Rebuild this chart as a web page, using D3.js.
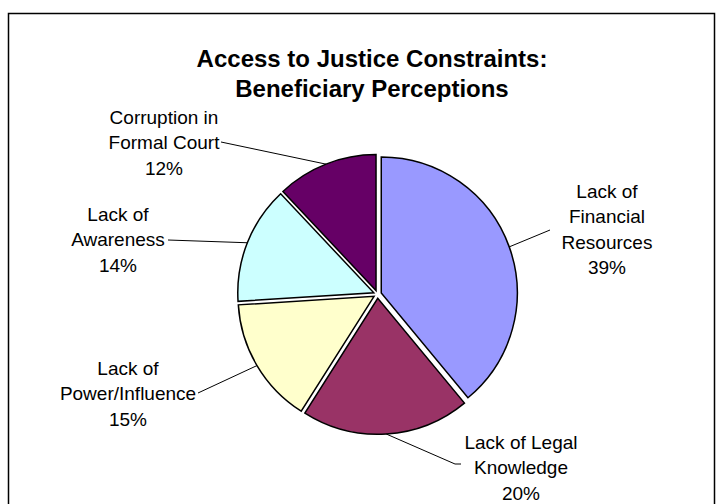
<!DOCTYPE html>
<html>
<head>
<meta charset="utf-8">
<script src="https://cdn.jsdelivr.net/npm/d3@7/dist/d3.min.js"></script>
<style>
  html, body { margin: 0; padding: 0; background: #fff; }
  svg { display: block; }
  text { font-family: "Liberation Sans", Arial, sans-serif; fill: #000; }
</style>
</head>
<body>
<svg id="chart" width="723" height="504"></svg>
<script>
// ---- data ----
const categories = [
  ["Lack of", "Financial", "Resources"],
  ["Lack of Legal", "Knowledge"],
  ["Lack of", "Power/Influence"],
  ["Lack of", "Awareness"],
  ["Corruption in", "Formal Court"]
];
const values = [39, 20, 15, 14, 12];
const percentLabels = ["39%", "20%", "15%", "14%", "12%"];
const colors = ["#9999FF", "#993366", "#FFFFCC", "#CCFFFF", "#660066"];
const titleLines = ["Access to Justice Constraints:", "Beneficiary Perceptions"];

// ---- layout (positions only) ----
const cx = 377.5, cy = 294.3, radius = 136, explode = 4;
const labelLayout = [
  { x: 607, y: 191, leader: [[550, 230]] },
  { x: 521, y: 442, leader: [[455, 464], [461, 464]] },
  { x: 128, y: 368, leader: [[198, 393]] },
  { x: 118, y: 214, leader: [[168, 240]] },
  { x: 164, y: 117, leader: [[221, 142]] }
];
const lineGap = 25.4;

const svg = d3.select("#chart");

// frame
svg.append("rect")
  .attr("x", 8.5).attr("y", 13.5)
  .attr("width", 706).attr("height", 520)
  .attr("fill", "none").attr("stroke", "#000").attr("stroke-width", 1.5);

// title
svg.append("g").selectAll("text").data(titleLines).join("text")
  .attr("x", 372)
  .attr("y", (d, i) => 67 + i * 30)
  .attr("text-anchor", "middle")
  .style("font-size", "24px")
  .style("font-weight", "bold")
  .text(d => d);

// pie
const pie = d3.pie().sort(null).value(d => d)(values);
const arc = d3.arc().innerRadius(0).outerRadius(radius);

function offsetOf(d) {
  const a = (d.startAngle + d.endAngle) / 2;
  return [explode * Math.sin(a), -explode * Math.cos(a)];
}

const g = svg.append("g").attr("transform", `translate(${cx},${cy})`);
g.selectAll("path").data(pie).join("path")
  .attr("transform", d => { const o = offsetOf(d); return `translate(${o[0]},${o[1]})`; })
  .attr("d", arc)
  .attr("fill", (d, i) => colors[i])
  .attr("stroke", "#000")
  .attr("stroke-width", 1.5)
  .attr("stroke-linejoin", "miter");

// leader lines
const line = d3.line();
pie.forEach((d, i) => {
  const a = (d.startAngle + d.endAngle) / 2;
  const o = offsetOf(d);
  const start = [cx + o[0] + radius * Math.sin(a), cy + o[1] - radius * Math.cos(a)];
  svg.append("path")
    .attr("d", line([start].concat(labelLayout[i].leader)))
    .attr("fill", "none")
    .attr("stroke", "#000")
    .attr("stroke-width", 1);
});

// labels
categories.forEach((lines, i) => {
  const all = lines.concat([percentLabels[i]]);
  const L = labelLayout[i];
  const t = svg.append("text")
    .attr("text-anchor", "middle")
    .style("font-size", "19px");
  all.forEach((s, j) => {
    t.append("tspan")
      .attr("x", L.x)
      .attr("y", L.y + 7 + j * lineGap)
      .text(s);
  });
});
</script>
</body>
</html>
